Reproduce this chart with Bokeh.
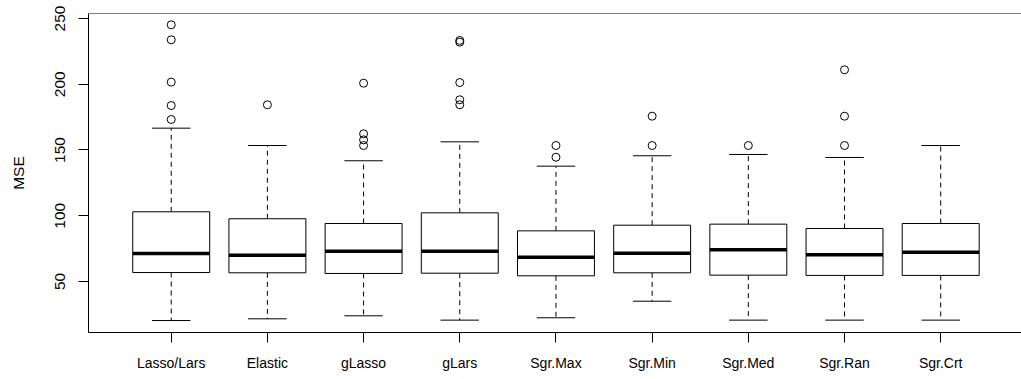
import numpy as np
from bokeh.plotting import figure
from bokeh.models import Range1d, FixedTicker, Span
from bokeh.embed import file_html
from bokeh.resources import INLINE

# ---- data ----
categories = ["Lasso/Lars", "Elastic", "gLasso", "gLars", "Sgr.Max",
              "Sgr.Min", "Sgr.Med", "Sgr.Ran", "Sgr.Crt"]
lower_whisker = [20.3, 21.6, 23.9, 20.6, 22.4, 35.0, 20.6, 20.6, 20.6]
q1 = [56.8, 56.6, 56.1, 56.3, 54.3, 56.6, 54.8, 54.6, 54.6]
median = [71.3, 70.0, 73.0, 73.0, 68.5, 71.5, 74.1, 70.3, 72.3]
q3 = [103.0, 97.7, 94.1, 102.2, 88.5, 92.8, 93.6, 90.3, 94.1]
upper_whisker = [166.6, 153.4, 141.8, 156.2, 137.7, 145.6, 146.6, 144.3, 153.4]
outliers = [
    [245.2, 233.8, 201.6, 183.8, 173.2],
    [184.4],
    [200.8, 162.3, 157.7, 153.4],
    [233.3, 232.0, 201.3, 188.2, 184.4],
    [153.4, 144.5],
    [175.7, 153.4],
    [153.4],
    [211.0, 175.7, 153.4],
    [],
]
y_ticks = [50, 100, 150, 200, 250]

# ---- geometry derived from data ----
pos = np.arange(1, len(categories) + 1, dtype=float)
BOX_HALF = 0.4
CAP_HALF = 0.2
X_START, X_END = 0.14, 9.84
Y_START, Y_END = 11.2, 253.8

FONT = "Liberation Sans"
FS_X = "14px"
FS_Y = "15.5px"

p = figure(width=1021, height=379, output_backend="svg", toolbar_location=None,
           x_range=Range1d(X_START, X_END), y_range=Range1d(Y_START, Y_END),
           min_border_left=88, min_border_right=0, min_border_top=13,
           min_border_bottom=47)
p.outline_line_color = None
p.xgrid.visible = False
p.ygrid.visible = False
p.background_fill_color = "white"
p.border_fill_color = "white"

# whiskers (dashed)
p.segment(x0=pos, y0=q3, x1=pos, y1=upper_whisker, line_color="black",
          line_width=1, line_dash="5 4")
p.segment(x0=pos, y0=q1, x1=pos, y1=lower_whisker, line_color="black",
          line_width=1, line_dash="5 4")
# caps
p.segment(x0=pos - CAP_HALF, y0=upper_whisker, x1=pos + CAP_HALF, y1=upper_whisker,
          line_color="black", line_width=1)
p.segment(x0=pos - CAP_HALF, y0=lower_whisker, x1=pos + CAP_HALF, y1=lower_whisker,
          line_color="black", line_width=1)
# boxes
p.quad(left=pos - BOX_HALF, right=pos + BOX_HALF, bottom=q1, top=q3,
       fill_color="white", line_color="black", line_width=1)
# medians
p.segment(x0=pos - BOX_HALF, y0=median, x1=pos + BOX_HALF, y1=median,
          line_color="black", line_width=3.5)
# outliers
ox = [pos[i] for i, lst in enumerate(outliers) for _ in lst]
oy = [v for lst in outliers for v in lst]
p.scatter(x=ox, y=oy, marker="circle", size=8, fill_color=None,
          line_color="black", line_width=1)

# top border line
p.add_layout(Span(location=Y_END, dimension="width", line_color="black",
                  line_width=1))

# axes
xa = p.xaxis[0]
xa.ticker = FixedTicker(ticks=list(pos))
xa.major_label_overrides = {float(x): c for x, c in zip(pos, categories)}
xa.major_label_overrides.update({int(x): c for x, c in zip(pos, categories)})
xa.minor_tick_line_color = None
xa.major_tick_in = 0
xa.major_tick_out = 10
xa.major_label_standoff = 12
xa.major_label_text_font = FONT
xa.major_label_text_font_size = FS_X
xa.major_label_text_color = "black"
xa.axis_line_color = "black"
xa.major_tick_line_color = "black"

ya = p.yaxis[0]
ya.ticker = FixedTicker(ticks=y_ticks)
ya.minor_tick_line_color = None
ya.major_tick_in = 0
ya.major_tick_out = 10
ya.major_label_orientation = "vertical"
ya.major_label_standoff = 13
ya.major_label_text_font = FONT
ya.major_label_text_font_size = FS_Y
ya.major_label_text_color = "black"
ya.axis_line_color = "black"
ya.major_tick_line_color = "black"
ya.axis_label = "MSE"
ya.axis_label_text_font = FONT
ya.axis_label_text_font_size = FS_Y
ya.axis_label_text_font_style = "normal"
ya.axis_label_text_color = "black"
ya.axis_label_standoff = 26

open("out.html", "w").write(file_html(p, INLINE))
